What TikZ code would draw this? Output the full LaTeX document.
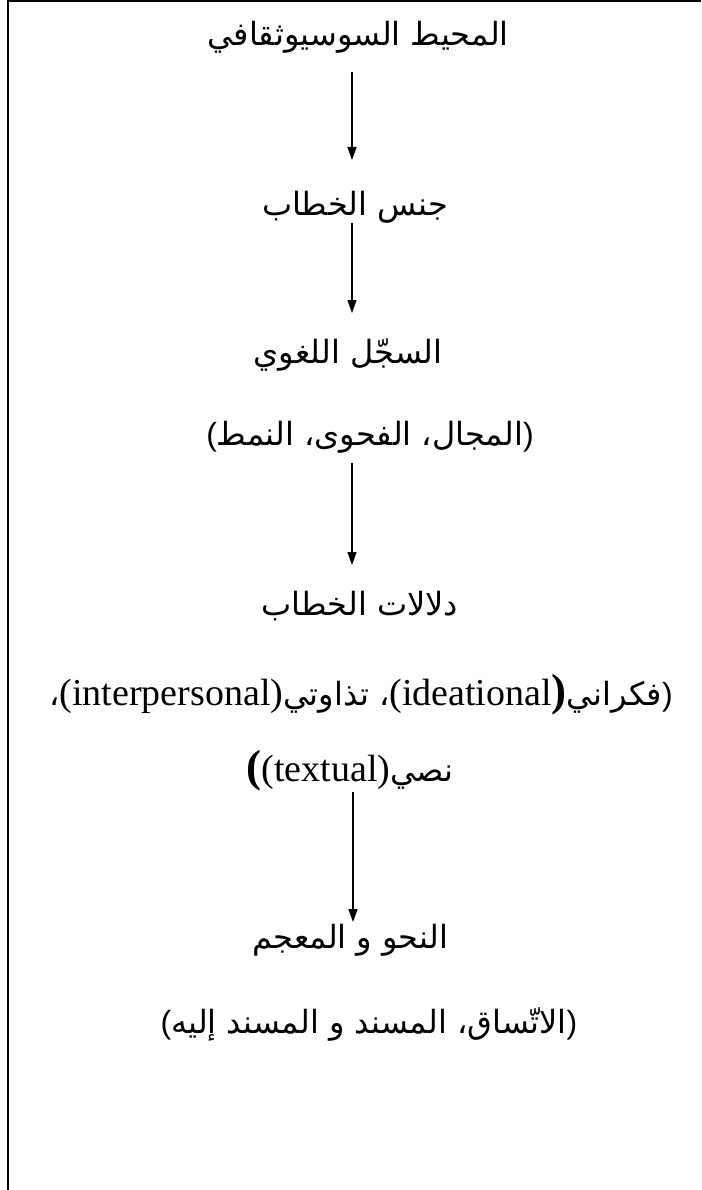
\documentclass[tikz,border=0pt]{standalone}
\usepackage{fontspec}
\setmainfont{Liberation Serif}
\newfontfamily\ar[Script=Arabic]{DejaVu Sans}
\newfontfamily\ps{Liberation Sans}
\newfontfamily\lat{Liberation Serif}
\TeXXeTstate=1
\usetikzlibrary{arrows.meta}
\newcommand{\latsz}{\fontsize{38}{42}\selectfont}
\newcommand{\bigpar}{\lat\bfseries\fontsize{45}{48}\selectfont}
\begin{document}
\begin{tikzpicture}[x=1pt,y=-1pt,
  lbl/.style={inner sep=0pt, anchor=base, font=\ar\fontsize{32}{38}\selectfont},
  arr/.style={line width=1.5pt, -{Triangle[length=13pt,width=9pt]}},
  frame/.style={line width=1.6pt}]
\useasboundingbox (0,0) rectangle (701,1190);
\fill[white] (0,0) rectangle (701,1190);
\draw[frame] (8,1190) -- (8,1) -- (701,1);

\node[lbl] (t1) at (358,46) {\beginR المحيط السوسيوثقافي\endR};
\node[lbl] (t2) at (355,216) {\beginR جنس الخطاب\endR};
\node[lbl] (t3) at (348,363) {\beginR السجّل اللغوي\endR};
\node[lbl] (t4) at (370,445) {\beginR{\ps )}المجال، الفحوى، النمط{\ps (}\endR};
\node[lbl] (t5) at (360,615) {\beginR دلالات الخطاب\endR};
\node[lbl] (t6) at (361,705) {\beginR{\ps )}فكراني{\bigpar )}\beginL{\lat\latsz (ideational}\endL، تذاوتي\beginL{\lat\latsz (interpersonal)}\endL،\endR};
\node[lbl] (t7) at (350,781) {\beginR نصي\beginL{\bigpar (}{\lat\latsz (textual)}\endL\endR};
\node[lbl] (t8) at (350,948) {\beginR النحو و المعجم\endR};
\node[lbl] (t9) at (369,1033) {\beginR{\ps )}الاتّساق، المسند و المسند إليه{\ps (}\endR};

\coordinate (a1s) at (352,72);  \coordinate (a1e) at (352,160);
\coordinate (a2s) at (352,223); \coordinate (a2e) at (352,313);
\coordinate (a3s) at (352,463); \coordinate (a3e) at (352,565);
\coordinate (a4s) at (353,792); \coordinate (a4e) at (353,922);
\draw[arr] (a1s) -- (a1e);
\draw[arr] (a2s) -- (a2e);
\draw[arr] (a3s) -- (a3e);
\draw[arr] (a4s) -- (a4e);
\end{tikzpicture}
\end{document}
